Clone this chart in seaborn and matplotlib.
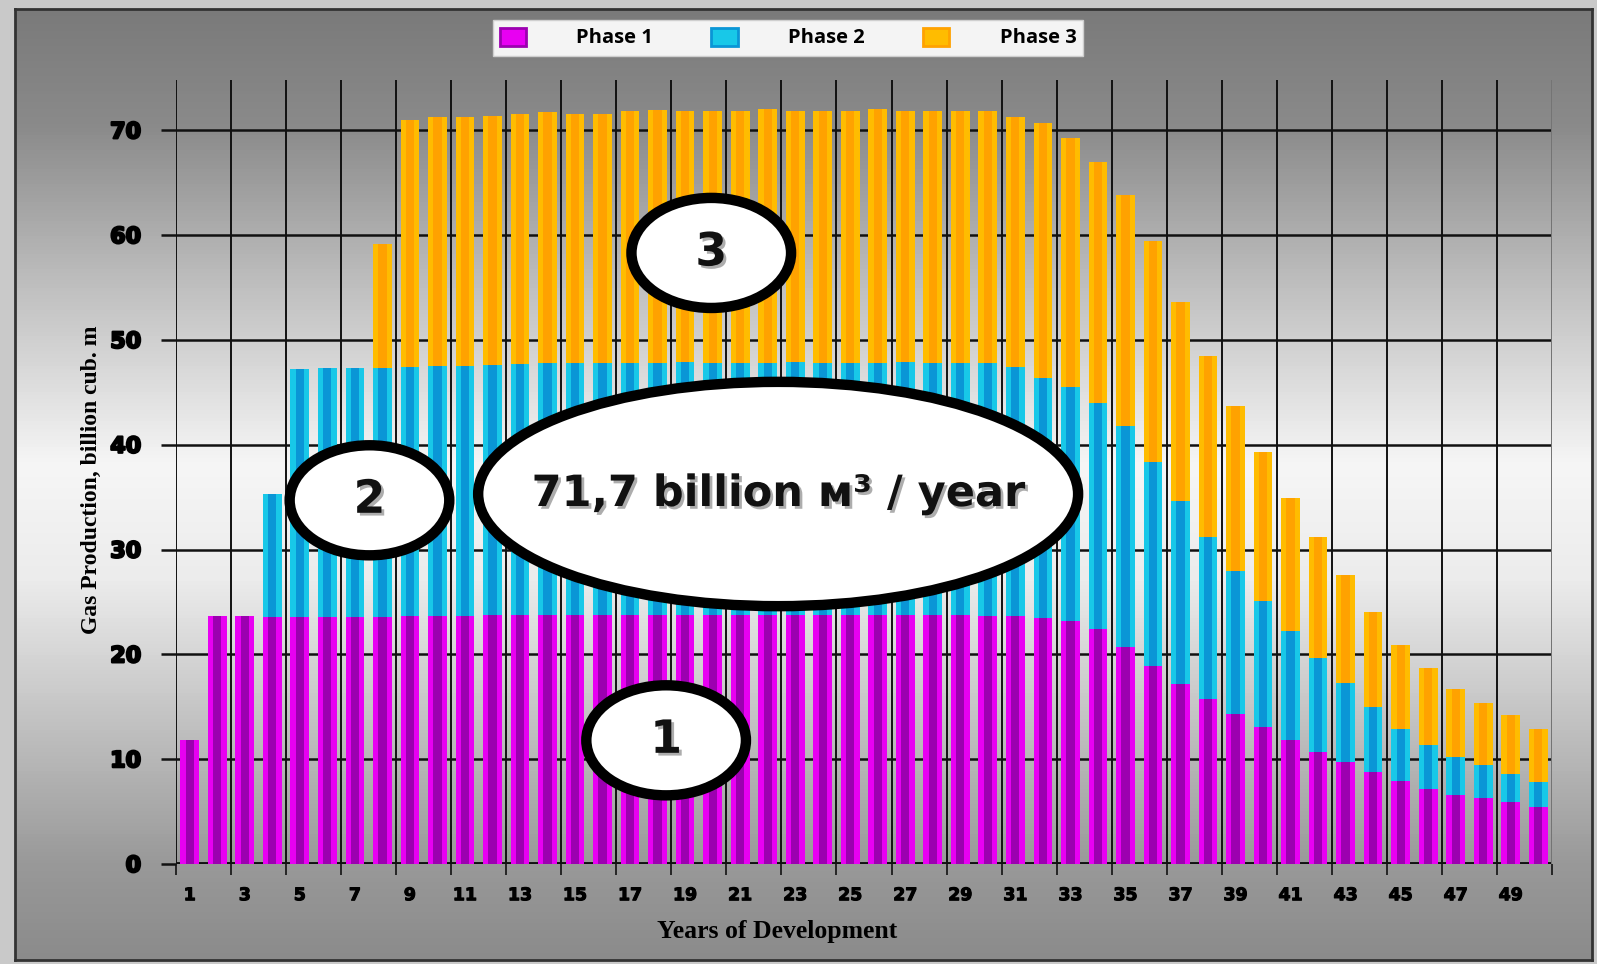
import numpy as np
import pandas as pd
import matplotlib
matplotlib.use('Agg')
import matplotlib.pyplot as plt
import matplotlib.patheffects as pe
from matplotlib.colors import LinearSegmentedColormap
from matplotlib.patches import Ellipse, Patch
import seaborn as sns

# Gas production per phase, billion cubic metres per year
years = list(range(1, 51))
phase1 = [11.8, 23.7, 23.7, 23.6, 23.6, 23.6, 23.6, 23.6, 23.7, 23.7,
          23.7, 23.8, 23.8, 23.8, 23.8, 23.8, 23.8, 23.8, 23.8, 23.8,
          23.8, 23.8, 23.8, 23.8, 23.8, 23.8, 23.8, 23.8, 23.8, 23.7,
          23.7, 23.5, 23.2, 22.4, 20.7, 18.9, 17.2, 15.7, 14.3, 13.1,
          11.8, 10.7, 9.7, 8.8, 7.9, 7.2, 6.6, 6.3, 5.9, 5.4]
phase2 = [0.0, 0.0, 0.0, 11.7, 23.6, 23.7, 23.7, 23.7, 23.7, 23.8,
          23.8, 23.8, 23.9, 24.0, 24.0, 24.0, 24.0, 24.0, 24.1, 24.0,
          24.0, 24.0, 24.1, 24.0, 24.0, 24.0, 24.1, 24.0, 24.0, 24.1,
          23.7, 22.9, 22.3, 21.6, 21.1, 19.5, 17.4, 15.5, 13.7, 12.0,
          10.4, 9.0, 7.6, 6.2, 5.0, 4.2, 3.6, 3.1, 2.7, 2.4]
phase3 = [0.0, 0.0, 0.0, 0.0, 0.0, 0.0, 0.0, 11.9, 23.6, 23.8,
          23.8, 23.8, 23.9, 23.9, 23.8, 23.8, 24.0, 24.1, 23.9, 24.0,
          24.0, 24.2, 23.9, 24.0, 24.0, 24.2, 23.9, 24.0, 24.0, 24.0,
          23.9, 24.3, 23.8, 23.0, 22.0, 21.0, 19.0, 17.3, 15.7, 14.2,
          12.7, 11.5, 10.3, 9.0, 8.0, 7.3, 6.5, 6.0, 5.6, 5.1]
phase_names = ['Phase 1', 'Phase 2', 'Phase 3']
y_ticks = [0, 10, 20, 30, 40, 50, 60, 70]

df = pd.DataFrame({'year': years, 'p1': phase1, 'p2': phase2, 'p3': phase3})
df['top2'] = df['p1'] + df['p2']
df['total'] = df['top2'] + df['p3']

# colours: bright edge / dark centre of each bar
colors = {'p1': ('#e800f2', '#9c00b0'),
          'p2': ('#18c8e8', '#0a96d6'),
          'p3': ('#ffbc00', '#ffa200')}

fig = plt.figure(figsize=(15.97, 9.64), dpi=100, facecolor='#c9c9c9')

# grey gradient background inside the frame
bg = fig.add_axes([15 / 1597, 0.004, 1 - 20 / 1597, 1 - 13 / 964])
cmap = LinearSegmentedColormap.from_list('bg', [
    (0.0, '#7a7a7a'), (0.12, '#8a8a8a'), (0.3, '#c2c2c2'),
    (0.48, '#f6f6f6'), (0.6, '#ececec'), (0.8, '#b4b4b4'),
    (0.9, '#999999'), (1.0, '#8b8b8b')])
bg.imshow(np.linspace(0, 1, 256).reshape(-1, 1), aspect='auto', cmap=cmap,
          extent=[0, 1, 1, 0])
bg.set_xticks([])
bg.set_yticks([])
for s in bg.spines.values():
    s.set_color('#333333')
    s.set_linewidth(2)

ax = fig.add_axes([176 / 1597, 100 / 964, 1376 / 1597, 784 / 964])
ax.set_facecolor('none')

order = years
# stacked by layering cumulative heights
for col, key in [('total', 'p3'), ('top2', 'p2'), ('p1', 'p1')]:
    sns.barplot(data=df, x='year', y=col, order=order, color=colors[key][0],
                width=0.68, saturation=1, ax=ax, zorder=3, linewidth=0)
    sns.barplot(data=df, x='year', y=col, order=order, color=colors[key][1],
                width=0.3, saturation=1, ax=ax, zorder=3, linewidth=0)

ax.set_xlim(-0.5, 49.5)
ax.set_ylim(0, 74.8)

# grid
for yv in y_ticks:
    ax.axhline(yv, color='#111111', lw=2.8 if yv == 0 else 1.8, zorder=1)
for xv in np.arange(-0.5, 50, 2):
    ax.axvline(xv, color='#111111', lw=1.4, zorder=1)
ax.axvline(49.5, color='#888888', lw=1.2, zorder=1)

for s in ax.spines.values():
    s.set_visible(False)

heavy = [pe.withStroke(linewidth=1.6, foreground='black')]
ax.set_yticks(y_ticks)
ax.set_yticklabels([str(v) for v in y_ticks], fontsize=16, fontweight='bold',
                   family='DejaVu Sans')
for t in ax.get_yticklabels():
    t.set_path_effects(heavy)
ax.set_xticks(list(range(0, 50, 2)))
ax.set_xticklabels([str(years[i]) for i in range(0, 50, 2)], fontsize=12.5,
                   fontweight='bold', family='DejaVu Sans')
for t in ax.get_xticklabels():
    t.set_path_effects([pe.withStroke(linewidth=0.8, foreground='black')])
ax.set_xticks(np.arange(-0.5, 50, 2), minor=True)
ax.tick_params(axis='y', length=11, width=1.8, color='#111111', pad=14)
ax.tick_params(axis='x', which='major', length=0, pad=16)
ax.tick_params(axis='x', which='minor', length=8, width=1.2, color='#111111')

ax.set_xlabel('Years of Development', fontsize=18.5, fontweight='bold',
              family='Liberation Serif')
ax.xaxis.set_label_coords(0.437, -0.072)
ax.set_ylabel('Gas Production, billion cub. m', fontsize=17, fontweight='bold',
              family='Liberation Serif')
ax.yaxis.set_label_coords(-0.054, 0.49)

# annotation ellipses
shadow = [pe.withSimplePatchShadow(offset=(2, -2), shadow_rgbFace='#777777', alpha=0.6)]
bubbles = [(18.95, 58.3, 5.8, 10.5, '3', 33),
           (6.53, 34.7, 5.8, 10.5, '2', 33),
           (17.31, 11.8, 5.8, 10.5, '1', 33),
           (21.38, 35.3, 21.8, 21.4, '71,7 billion м³ / year', 31)]
for cx, cy, w, h, txt, fs in bubbles:
    ax.add_patch(Ellipse((cx, cy), w, h, facecolor='white', edgecolor='black',
                         lw=7.5, zorder=6))
    ax.text(cx, cy, txt, ha='center', va='center', fontsize=fs,
            fontweight='bold', family='DejaVu Sans', color='#111111',
            zorder=7, path_effects=shadow)

# legend
handles = [Patch(facecolor=colors[k][0], edgecolor=colors[k][1], lw=2)
           for k in ['p1', 'p2', 'p3']]
leg = fig.legend(handles, phase_names, loc='center', ncol=3,
                 bbox_to_anchor=(788 / 1597, 1 - 38 / 964), frameon=True,
                 fancybox=False, framealpha=1, facecolor='#f4f4f4',
                 edgecolor='#cfcfcf', handlelength=1.3, handleheight=1.0,
                 columnspacing=2.9, handletextpad=2.5, borderpad=0.35,
                 prop={'family': 'Open Sans', 'weight': 'bold', 'size': 14.5})

fig.savefig('out.png', dpi=100, facecolor=fig.get_facecolor())
